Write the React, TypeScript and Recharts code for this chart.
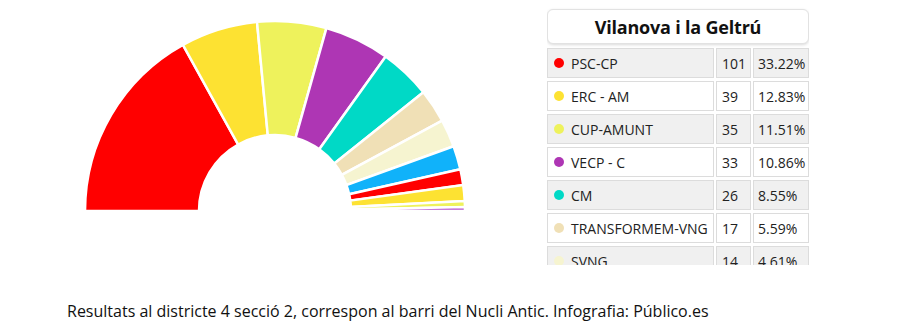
import React from 'react';
import { PieChart, Pie, Cell } from 'recharts';

// parties, in the order they are drawn round the half circle
const parties = ['PSC-CP', 'ERC - AM', 'CUP-AMUNT', 'VECP - C', 'CM', 'TRANSFORMEM-VNG', 'SVNG', 'Altres 1', 'Altres 2', 'Altres 3', 'Altres 4', 'Altres 5'];
const votes = [101, 39, 35, 33, 26, 17, 14, 12, 8, 8, 3, 2];
const percents = ['33.22%', '12.83%', '11.51%', '10.86%', '8.55%', '5.59%', '4.61%', '', '', '', '', ''];
const colors = ['#ff0000', '#fde232', '#eef25c', '#ae36b4', '#00d9c6', '#f0e0b6', '#f6f4d0', '#10b2fa', '#ff0000', '#fde232', '#eef25c', '#b451c9'];

const title = 'Vilanova i la Geltrú';
const caption = 'Resultats al districte 4 secció 2, correspon al barri del Nucli Antic. Infografia: Público.es';

const chartData = parties.map((name, i) => ({ name, value: votes[i], pct: percents[i], color: colors[i] }));
const visibleRows = 7;

const font = '"Open Sans", "Noto Sans", sans-serif';

const cellBase: React.CSSProperties = {
  position: 'absolute',
  height: 30,
  boxSizing: 'border-box',
  border: '1px solid #dcdcdc',
  display: 'flex',
  alignItems: 'center',
  fontSize: 14,
  color: '#222',
};

const ResultsTable: React.FC = () => {
  return (
    <div style={{ position: 'absolute', left: 547, top: 0, width: 262, height: 265, overflow: 'hidden', fontFamily: font }}>
      <div
        style={{
          position: 'absolute',
          left: 0,
          top: 9,
          width: 260,
          height: 33,
          border: '1px solid #e2e2e2',
          borderRadius: 6,
          boxShadow: '0 1px 3px rgba(0,0,0,0.15)',
          background: '#fff',
          display: 'flex',
          alignItems: 'center',
          justifyContent: 'center',
          fontWeight: 700,
          fontSize: 18,
          letterSpacing: -0.2,
          color: '#111',
        }}
      >
        {title}
      </div>
      {chartData.slice(0, visibleRows).map((d, i) => {
        const top = 48 + i * 33;
        const bg = i % 2 === 0 ? '#f0f0f0' : '#ffffff';
        return (
          <React.Fragment key={d.name}>
            <div style={{ ...cellBase, left: 0, top, width: 167, background: bg, paddingLeft: 6 }}>
              <span style={{ width: 10, height: 10, borderRadius: '50%', background: d.color, marginRight: 7, flexShrink: 0 }} />
              {d.name}
            </div>
            <div style={{ ...cellBase, left: 169, top, width: 35, background: bg, paddingLeft: 5 }}>{d.value}</div>
            <div style={{ ...cellBase, left: 206, top, width: 56, background: bg, paddingLeft: 4 }}>{d.pct}</div>
          </React.Fragment>
        );
      })}
    </div>
  );
};

const App: React.FC = () => {
  return (
    <div style={{ position: 'absolute', left: 0, top: 0, width: 900, height: 336, background: '#fff', overflow: 'hidden' }}>
      <div style={{ position: 'absolute', left: 0, top: 0 }}>
        <PieChart width={540} height={260}>
          <Pie
            data={chartData}
            dataKey="value"
            nameKey="name"
            cx={270}
            cy={206}
            innerRadius={76}
            outerRadius={190}
            startAngle={180}
            endAngle={0}
            stroke="#ffffff"
            strokeWidth={2.5}
            isAnimationActive={false}
          >
            {chartData.map((d) => (
              <Cell key={d.name} fill={d.color} />
            ))}
          </Pie>
        </PieChart>
      </div>
      <ResultsTable />
      <div
        style={{
          position: 'absolute',
          left: 67,
          top: 300,
          fontFamily: '"Liberation Sans Narrow", "Open Sans", sans-serif',
          fontSize: 16,
          color: '#111',
          whiteSpace: 'nowrap',
        }}
      >
        {caption}
      </div>
    </div>
  );
};

export default App;
